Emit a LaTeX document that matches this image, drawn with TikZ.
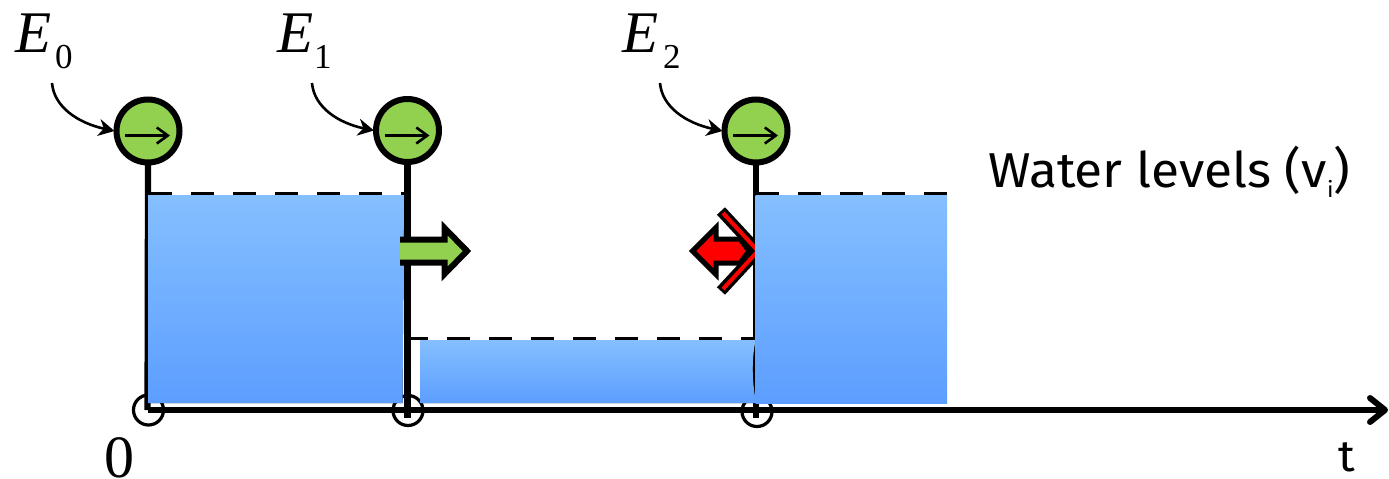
\documentclass[tikz,border=0pt]{standalone}
\usepackage{fontspec}
\setmainfont{Liberation Serif}
\newfontfamily\wfont[FakeStretch=1.05]{Fira Sans}
\usetikzlibrary{arrows.meta}
\definecolor{gr}{HTML}{92D050}
\definecolor{bt}{HTML}{85BFFF}
\definecolor{bb}{HTML}{5C9EFF}
\tikzset{
 x=1pt,y=-1pt,
 water/.style={top color=bt,bottom color=bb,draw=none,inner sep=0,outer sep=0},
 vert/.style={line width=6.2pt},
 lvl/.style={line width=3pt,dash pattern=on 23pt off 19pt},
 ring/.style={draw,line width=3.2pt,circle,minimum size=30pt,inner sep=0},
 ev/.style={draw,line width=6pt,fill=gr,circle,minimum size=63pt,inner sep=0,outer sep=2pt},
 callout/.style={line width=2.6pt,-{Stealth[length=16pt,width=17pt]}},
 inarrow/.style={line width=2.6pt,-{Straight Barb[length=11pt,width=16pt,line width=2.6pt]}},
 lab/.style={inner sep=0,anchor=base west},
}
\begin{document}
\begin{tikzpicture}
\useasboundingbox (0,0) rectangle (1389,479);
% small circles
\node[ring] (c0) at (148.5,410) {};
\node[ring] (c1) at (408,410.5) {};
\node[ring] (c2) at (757,411.5) {};
% events
\node[ev] (e0) at (148,131) {};
\node[ev] (e1) at (407.5,130.5) {};
\node[ev] (e2) at (756,131) {};
% verticals
\draw[vert] (e0.south) -- (147.5,410);
\draw[vert] (e1.south) -- (407.5,418);
\draw[vert] (e2.south) -- (756,418);
% axis
\coordinate (axs) at (148,410);
\coordinate (axe) at (1388,410);
\draw[line width=6pt,-{Straight Barb[round,length=15pt,width=24pt]}] (axs) -- (axe);
% levels
\coordinate (l1a) at (149,193); \coordinate (l1b) at (407,193);
\coordinate (l2a) at (405,338); \coordinate (l2b) at (755,338);
\coordinate (l3a) at (756,193); \coordinate (l3b) at (947,193);
\draw[lvl] (l1a) -- (l1b);
\draw[lvl] (l2a) -- (l2b);
\draw[lvl] (l3a) -- (l3b);
% red arrow
\draw[line width=5pt,fill=red,miter limit=6]
 (692.5,251) -- (716,227.5) -- (716,239) -- (740,239) -- (749,251) -- (740,263) -- (716,263) -- (716,274.5) -- cycle;
\draw[line width=11pt,miter limit=6] (721,211) -- (758,251) -- (721,291);
\draw[line width=4pt,red,miter limit=6] (723,213) -- (758,251) -- (723,289);
% water
\fill[water] (148,195) -- (404,195) -- (402.5,403) -- (148,403) -- cycle;
\fill[water] (420,340) -- (755.6,340) .. controls (751.5,360) and (752,380) .. (755.6,400) -- (755.6,403) -- (420,403) -- cycle;
\fill[water] (755.6,195) -- (947,195) -- (947,403) -- (755.6,403) -- cycle;
% green arrow
\draw[line width=6pt,fill=gr,miter limit=6]
 (400,239.5) -- (444.5,239.5) -- (444.5,228) -- (467,251) -- (444.5,274) -- (444.5,262.5) -- (400,262.5);
% inner arrows
\foreach \n/\x in {e0/148,e1/407.5,e2/756}{
 \draw[inarrow] (\x-23,135.5) -- (\x+22,135.5);
}
% callouts
\coordinate (s0) at (52,83); \coordinate (s1) at (312,83); \coordinate (s2) at (660,83);
\draw[callout] (s0) .. controls (54,107) and (78,123) .. (e0.west);
\draw[callout] (s1) .. controls (314,107) and (338,123) .. (e1.west);
\draw[callout] (s2) .. controls (662,107) and (686,123) .. (e2.west);
% text
\node[lab,font=\fontsize{59}{59}\selectfont\itshape] (t0) at (15,52) {E};
\node[lab,font=\fontsize{35}{35}\selectfont] (t0s) at (55,68) {0};
\node[lab,font=\fontsize{59}{59}\selectfont\itshape] (t1) at (277,52) {E};
\node[lab,font=\fontsize{35}{35}\selectfont] (t1s) at (314,68) {1};
\node[lab,font=\fontsize{59}{59}\selectfont\itshape] (t2) at (622,52) {E};
\node[lab,font=\fontsize{35}{35}\selectfont] (t2s) at (663,68) {2};
\node[lab,font=\fontsize{60}{60}\selectfont] (zero) at (104,477) {0};
\node[lab,font=\fontsize{44}{44}\wfont] (tt) at (1338,471) {t};
\node[lab,font=\fontsize{49}{49}\wfont] (wl) at (988,187) {Water levels (v\raisebox{-10pt}{\fontsize{22}{22}\selectfont i})};
\end{tikzpicture}
\end{document}
